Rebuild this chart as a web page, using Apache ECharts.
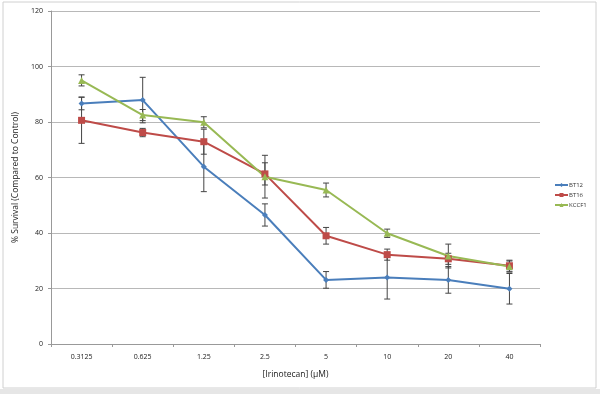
<!DOCTYPE html>
<html>
<head>
<meta charset="utf-8">
<script src="https://cdn.jsdelivr.net/npm/echarts@6/dist/echarts.min.js"></script>
<style>
  html, body { margin: 0; padding: 0; background: #fff; }
  #chart { width: 600px; height: 394px; }
</style>
</head>
<body>
<div id="chart"></div>
<script>
// doses on the x axis
const doses = ['0.3125', '0.625', '1.25', '2.5', '5', '10', '20', '40'];

// mean survival per line
const bt12 = [86.7, 87.9, 63.9, 46.5, 23.1, 24.0, 23.1, 19.9];
const bt16 = [80.6, 76.2, 72.9, 61.3, 39.0, 32.2, 30.7, 28.2];
const kccf1 = [95.0, 82.5, 79.9, 60.3, 55.5, 39.9, 31.7, 27.9];

// error (+/-) per point
const bt12Err = [2.3, 8.2, 9.0, 4.0, 3.0, 7.8, 4.8, 5.5];
const bt16Err = [8.3, 1.5, 4.5, 4.0, 3.0, 2.0, 2.0, 2.0];
const kccf1Err = [2.0, 2.0, 2.0, 7.7, 2.5, 1.5, 4.3, 2.0];

const font = '"Open Sans", sans-serif';

// error bars drawn as custom series
function errSeries(vals, errs) {
  return {
    type: 'custom',
    z: 1,
    silent: true,
    data: vals.map((v, i) => [i, v - errs[i], v + errs[i]]),
    renderItem: function (params, api) {
      const lo = api.coord([api.value(0), api.value(1)]);
      const hi = api.coord([api.value(0), api.value(2)]);
      const w = 3;
      const st = { stroke: '#444', lineWidth: 1 };
      return {
        type: 'group',
        children: [
          { type: 'line', shape: { x1: lo[0], y1: lo[1], x2: hi[0], y2: hi[1] }, style: st },
          { type: 'line', shape: { x1: lo[0] - w, y1: lo[1], x2: lo[0] + w, y2: lo[1] }, style: st },
          { type: 'line', shape: { x1: hi[0] - w, y1: hi[1], x2: hi[0] + w, y2: hi[1] }, style: st }
        ]
      };
    }
  };
}

function lineSeries(name, vals, color, symbol, size) {
  return {
    name: name,
    type: 'line',
    z: 3,
    data: vals,
    symbol: symbol,
    symbolSize: size,
    lineStyle: { color: color, width: 2 },
    itemStyle: { color: color },
    emphasis: { disabled: true }
  };
}

const myChart = echarts.init(document.getElementById('chart'));
const option = {
  animation: false,
  backgroundColor: '#fff',
  graphic: [
    { type: 'rect', shape: { x: 3, y: 2, width: 593, height: 386 }, style: { fill: 'none', stroke: '#d0d0d0', lineWidth: 1 }, z: -1 },
    { type: 'rect', shape: { x: 0, y: 389, width: 600, height: 5 }, style: { fill: '#e6e6e6' }, z: -1 }
  ],
  grid: { left: 51, right: 60, top: 11, bottom: 50 },
  legend: {
    orient: 'vertical',
    left: 549,
    top: 177,
    itemGap: 4,
    itemWidth: 13,
    itemHeight: 5,
    textStyle: { fontSize: 6, color: '#333', fontFamily: font, padding: [0, 0, 0, -4] },
    data: ['BT12', 'BT16', 'KCCF1']
  },
  xAxis: {
    type: 'category',
    data: doses,
    boundaryGap: true,
    name: '[Irinotecan] (μM)',
    nameLocation: 'middle',
    nameGap: 26,
    nameTextStyle: { fontSize: 8.5, color: '#1a1a1a', fontFamily: font },
    axisLine: { lineStyle: { color: '#999' } },
    axisTick: { show: true, length: 3, lineStyle: { color: '#999' } },
    axisLabel: { fontSize: 7, color: '#1a1a1a', fontFamily: font, margin: 9 },
    splitLine: { show: false }
  },
  yAxis: {
    type: 'value',
    min: 0,
    max: 120,
    interval: 20,
    name: '% Survival (Compared to Control)',
    nameLocation: 'middle',
    nameGap: 25,
    nameTextStyle: { fontSize: 8.5, color: '#1a1a1a', fontFamily: font },
    axisLine: { show: true, lineStyle: { color: '#999' } },
    axisTick: { show: true, length: 3, lineStyle: { color: '#999' } },
    axisLabel: { fontSize: 7, color: '#1a1a1a', fontFamily: font, margin: 8 },
    splitLine: { lineStyle: { color: '#b8b8b8' } }
  },
  series: [
    errSeries(bt12, bt12Err),
    errSeries(bt16, bt16Err),
    errSeries(kccf1, kccf1Err),
    lineSeries('BT12', bt12, '#4a7ebb', 'diamond', 6),
    lineSeries('BT16', bt16, '#be4b48', 'rect', 7),
    lineSeries('KCCF1', kccf1, '#98b954', 'triangle', 7)
  ]
};
myChart.setOption(option);
</script>
</body>
</html>
